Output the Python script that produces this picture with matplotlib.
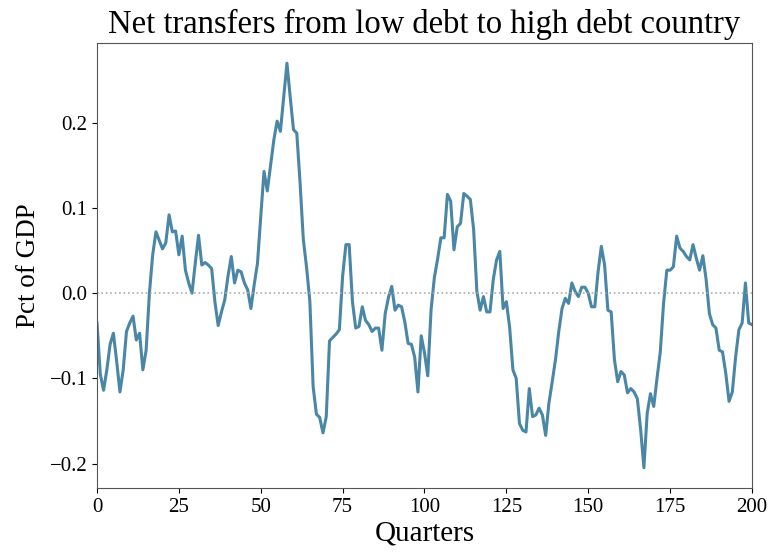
import numpy as np
import matplotlib
matplotlib.use('Agg')
import matplotlib.pyplot as plt

plt.rcParams['font.family'] = ['Liberation Serif', 'DejaVu Serif']
plt.rcParams['axes.unicode_minus'] = True

# net transfers, pct of GDP, one value per quarter (0..200)
transfers = [
    -0.035, -0.095, -0.114, -0.090, -0.060, -0.047, -0.080, -0.116, -0.090, -0.045,
    -0.035, -0.027, -0.055, -0.047, -0.090, -0.067, 0.000, 0.045, 0.072, 0.062,
    0.052, 0.059, 0.092, 0.072, 0.073, 0.045, 0.067, 0.027, 0.012, 0.000,
    0.035, 0.068, 0.033, 0.036, 0.033, 0.029, -0.010, -0.038, -0.022, -0.008,
    0.020, 0.043, 0.012, 0.027, 0.025, 0.012, 0.004, -0.018, 0.010, 0.035,
    0.090, 0.143, 0.120, 0.150, 0.180, 0.202, 0.190, 0.230, 0.270, 0.230,
    0.192, 0.188, 0.130, 0.063, 0.030, -0.010, -0.110, -0.142, -0.146, -0.164,
    -0.145, -0.056, -0.052, -0.048, -0.043, 0.020, 0.057, 0.057, -0.010, -0.041,
    -0.039, -0.016, -0.032, -0.037, -0.045, -0.041, -0.041, -0.067, -0.024, -0.005,
    0.008, -0.020, -0.014, -0.016, -0.034, -0.059, -0.060, -0.075, -0.116, -0.050,
    -0.070, -0.097, -0.020, 0.018, 0.040, 0.065, 0.065, 0.116, 0.108, 0.051,
    0.078, 0.082, 0.117, 0.114, 0.110, 0.075, 0.002, -0.020, -0.004, -0.022,
    -0.022, 0.016, 0.039, 0.049, -0.018, -0.010, -0.040, -0.090, -0.100, -0.153,
    -0.161, -0.163, -0.112, -0.145, -0.143, -0.135, -0.143, -0.167, -0.129, -0.104,
    -0.078, -0.045, -0.018, -0.006, -0.012, 0.012, 0.002, -0.004, 0.007, 0.007,
    0.000, -0.016, -0.016, 0.025, 0.055, 0.033, -0.020, -0.022, -0.078, -0.104,
    -0.092, -0.096, -0.117, -0.112, -0.116, -0.124, -0.160, -0.205, -0.141, -0.118,
    -0.133, -0.100, -0.069, -0.012, 0.027, 0.027, 0.031, 0.067, 0.053, 0.049,
    0.043, 0.039, 0.057, 0.041, 0.027, 0.044, 0.016, -0.024, -0.037, -0.041,
    -0.067, -0.069, -0.094, -0.127, -0.116, -0.075, -0.043, -0.035, 0.012, -0.035,
    -0.037,
]
quarters = np.arange(len(transfers))

fig = plt.figure(figsize=(7.73, 5.56), dpi=100)
ax = fig.add_axes([0.1255, 0.1223, 0.8473, 0.8004])

ax.plot(quarters, transfers, color='#4a86a6', linewidth=2.2)
ax.axhline(0, color='#aaaaaa', linestyle=':', linewidth=1.2)

ax.set_xlim(0, 200)
ax.set_xticks([0, 25, 50, 75, 100, 125, 150, 175, 200])
ax.set_yticks([-0.2, -0.1, 0.0, 0.1, 0.2])
ax.tick_params(labelsize=15)

ax.set_title('Net transfers from low debt to high debt country', fontsize=23.5, pad=7)
ax.set_xlabel('Quarters', fontsize=21, labelpad=3)
ax.set_ylabel('Pct of GDP', fontsize=19.5, labelpad=6)

for s in ax.spines.values():
    s.set_color('#555555')

fig.savefig('out.png', dpi=100)
